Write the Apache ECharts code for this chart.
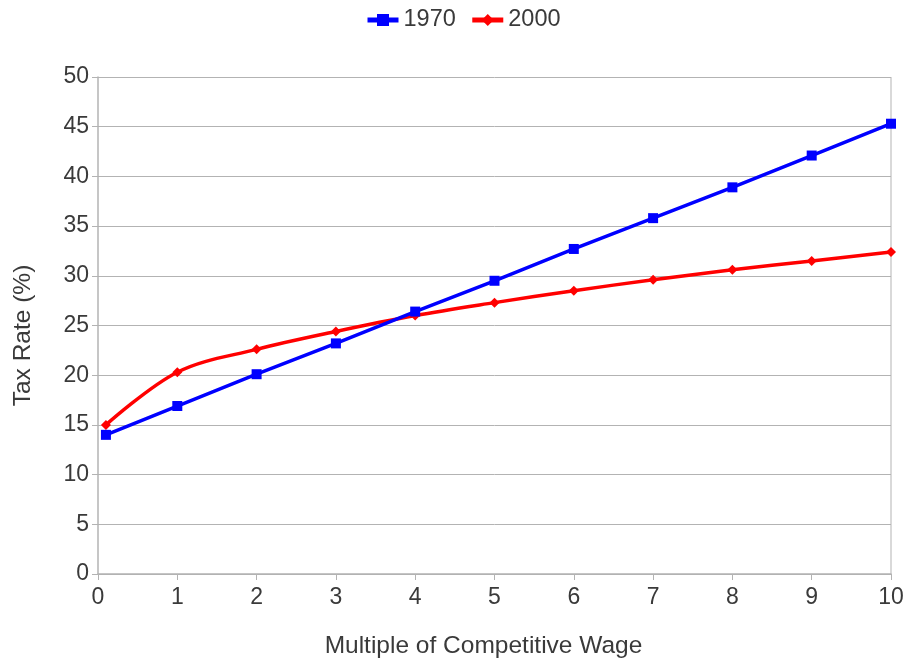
<!DOCTYPE html>
<html>
<head>
<meta charset="utf-8">
<script src="https://cdn.jsdelivr.net/npm/echarts@6/dist/echarts.min.js"></script>
<style>
  html, body { margin: 0; padding: 0; background: #fff; }
  #chart { width: 909px; height: 661px; }
</style>
</head>
<body>
<div id="chart"></div>
<script>
const wageMultiples = [0.1, 1, 2, 3, 4, 5, 6, 7, 8, 9, 10]
const rates1970 = [14.0, 16.9, 20.1, 23.2, 26.4, 29.5, 32.7, 35.8, 38.9, 42.1, 45.3]
const rates2000 = [15.0, 20.3, 22.6, 24.4, 26.0, 27.3, 28.5, 29.6, 30.6, 31.5, 32.4]

const pairs = (ys) => wageMultiples.map((x, i) => [x, ys[i]])

const axisGray = '#b3b3b3'
const textColor = '#3a3a3a'
const font = 'Liberation Sans'

const chart = echarts.init(document.getElementById('chart'))
chart.setOption({
    animation: false,
    textStyle: { fontFamily: font },
    legend: {
        top: 3,
        left: 360,
        itemWidth: 31,
        itemHeight: 15,
        itemGap: 14,
        lineStyle: { width: 5 },
        textStyle: { fontSize: 23.5, color: textColor, fontFamily: font },
        data: ['1970', '2000']
    },
    grid: { left: 98, right: 18, top: 77, bottom: 87, outerBoundsMode: 'none' },
    xAxis: {
        type: 'value',
        min: 0,
        max: 10,
        interval: 1,
        name: 'Multiple of Competitive Wage',
        nameLocation: 'middle',
        nameGap: 60,
        nameTextStyle: { fontSize: 24.5, color: textColor, padding: [0, 22, 0, 0] },
        axisLine: { lineStyle: { color: axisGray, width: 1.5 } },
        axisTick: { show: true, length: 6, lineStyle: { color: axisGray } },
        axisLabel: { fontSize: 23, color: textColor, margin: 12 },
        splitLine: { show: false }
    },
    yAxis: {
        type: 'value',
        min: 0,
        max: 50,
        interval: 5,
        name: 'Tax Rate (%)',
        nameLocation: 'middle',
        nameGap: 62,
        nameTextStyle: { fontSize: 24.5, color: textColor, padding: [0, 20, 0, 0] },
        axisLine: { show: true, lineStyle: { color: axisGray, width: 1.5 } },
        axisTick: { show: true, length: 6, lineStyle: { color: axisGray } },
        axisLabel: { fontSize: 23, color: textColor, margin: 9 },
        splitLine: { show: true, lineStyle: { color: axisGray, width: 1 } }
    },
    series: [
        {
            name: '1970',
            type: 'line',
            data: pairs(rates1970),
            symbol: 'rect',
            symbolSize: 10,
            lineStyle: { color: '#0000ff', width: 3.5 },
            itemStyle: { color: '#0000ff' },
            z: 3
        },
        {
            name: '2000',
            type: 'line',
            data: pairs(rates2000),
            smooth: 0.35,
            symbol: 'diamond',
            symbolSize: 10,
            lineStyle: { color: '#ff0000', width: 3.5 },
            itemStyle: { color: '#ff0000' },
            z: 2
        }
    ]
})
// right frame edge
chart.setOption({
    graphic: [{
        type: 'line',
        shape: { x1: 891, y1: 77, x2: 891, y2: 574 },
        style: { stroke: axisGray, lineWidth: 1 }
    }]
})
</script>
</body>
</html>
